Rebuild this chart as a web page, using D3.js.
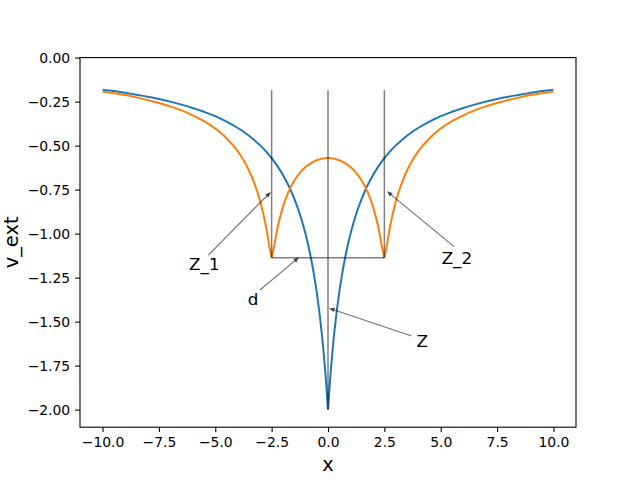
<!DOCTYPE html>
<html>
<head>
<meta charset="utf-8">
<script src="https://cdn.jsdelivr.net/npm/d3@7"></script>
<style>
  html, body { margin: 0; padding: 0; background: #fff; }
  svg { display: block; font-family: "DejaVu Sans", sans-serif; }
</style>
</head>
<body>
<svg id="chart" width="640" height="480"></svg>
<script>
// ---- data ----
const xValues = [-10,-9.5,-9,-8.5,-8,-7.5,-7,-6.5,-6,-5.5,-5,-4.5,-4,-3.75,-3.5,-3.25,-3,-2.75,-2.6,-2.5,-2.4,-2.25,-2,-1.75,-1.5,-1.25,-1,-0.75,-0.6,-0.5,-0.4,-0.3,-0.25,-0.2,-0.1,-0.05,0,
  0.05,0.1,0.2,0.25,0.3,0.4,0.5,0.6,0.75,1,1.25,1.5,1.75,2,2.25,2.4,2.5,2.6,2.75,3,3.25,3.5,3.75,4,4.5,5,5.5,6,6.5,7,7.5,8,8.5,9,9.5,10];

const blueValues = [-0.182,-0.190,-0.200,-0.211,-0.222,-0.235,-0.250,-0.267,-0.286,-0.308,-0.333,-0.364,-0.400,-0.421,-0.444,-0.471,-0.500,-0.533,-0.556,-0.571,-0.588,-0.615,-0.667,-0.727,-0.800,-0.889,-1.000,-1.143,-1.250,-1.333,-1.429,-1.538,-1.600,-1.667,-1.818,-1.905,-2.000,
  -1.905,-1.818,-1.667,-1.600,-1.538,-1.429,-1.333,-1.250,-1.143,-1.000,-0.889,-0.800,-0.727,-0.667,-0.615,-0.588,-0.571,-0.556,-0.533,-0.500,-0.471,-0.444,-0.421,-0.400,-0.364,-0.333,-0.308,-0.286,-0.267,-0.250,-0.235,-0.222,-0.211,-0.200,-0.190,-0.182];

const orangeValues = [-0.192,-0.202,-0.213,-0.226,-0.241,-0.258,-0.277,-0.300,-0.328,-0.361,-0.403,-0.458,-0.533,-0.582,-0.643,-0.720,-0.821,-0.960,-1.073,-1.137,-1.079,-0.974,-0.848,-0.762,-0.700,-0.655,-0.622,-0.599,-0.589,-0.583,-0.579,-0.576,-0.574,-0.573,-0.572,-0.571,-0.571,
  -0.571,-0.572,-0.573,-0.574,-0.576,-0.579,-0.583,-0.589,-0.599,-0.622,-0.655,-0.700,-0.762,-0.848,-0.974,-1.079,-1.137,-1.073,-0.960,-0.821,-0.720,-0.643,-0.582,-0.533,-0.458,-0.403,-0.361,-0.328,-0.300,-0.277,-0.258,-0.241,-0.226,-0.213,-0.202,-0.192];

// cusp positions where each curve has a sharp corner
const blueCusps = [0];
const orangeCusps = [-2.5, 2.5];

const xTicks = [-10, -7.5, -5, -2.5, 0, 2.5, 5, 7.5, 10];
const yTicks = [0, -0.25, -0.5, -0.75, -1, -1.25, -1.5, -1.75, -2];

// marker lines (x positions, bottoms, common top)
const markerX = [-2.5, 0, 2.5];
const markerBottom = [-1.137, -2.0, -1.137];
const markerTop = -0.185;
const baseLevel = -1.137;

// annotations: label, text anchor (x, y baseline-left), arrow tail, arrow tip
const annLabels = ["Z_1", "Z_2", "d", "Z"];
const annTextX = [-6.16, 5.04, -3.56, 3.93];
const annTextY = [-1.207, -1.173, -1.406, -1.646];
const annTailX = [-5.31, 5.59, -3.02, 3.71];
const annTailY = [-1.122, -1.074, -1.32, -1.582];
const annTipX = [-2.54, 2.62, -1.29, 0.05];
const annTipY = [-0.764, -0.76, -1.135, -1.424];

// ---- layout ----
const svg = d3.select("#chart");
const L = 80, R = 576, T = 57.6, B = 427.2;
const x = d3.scaleLinear().domain([-11, 11]).range([L, R]);
const y = d3.scaleLinear().domain([-2.1, 0]).range([B, T]);

const fmt = v => (v < 0 ? "\u2212" : "") + Math.abs(v).toFixed(v === 0 || Math.abs(v) % 1 === 0 && Math.abs(v) >= 10 ? (Math.abs(v) >= 10 ? 1 : 2) : 2);
const fmtX = v => (v < 0 ? "\u2212" : "") + Math.abs(v).toFixed(1);
const fmtY = v => (v < 0 ? "\u2212" : "") + Math.abs(v).toFixed(2);

const plot = svg.append("g");
plot.append("defs").append("clipPath").attr("id", "clip")
  .append("rect").attr("x", L).attr("y", T).attr("width", R - L).attr("height", B - T);

// split series into pieces at cusps
function pieces(cusps, values) {
  const pts = xValues.map((xv, i) => [xv, values[i]]);
  const out = [];
  let cur = [];
  pts.forEach(p => {
    cur.push(p);
    if (cusps.includes(p[0])) { out.push(cur); cur = [p]; }
  });
  if (cur.length > 1) out.push(cur);
  return out;
}
const line = d3.line().x(d => x(d[0])).y(d => y(d[1])).curve(d3.curveMonotoneX);
function drawSeries(values, cusps, color) {
  const d = pieces(cusps, values).map(p => line(p)).join("");
  plot.append("path").attr("d", d).attr("fill", "none")
    .attr("stroke", color).attr("stroke-width", 2).attr("stroke-linejoin", "round")
    .attr("clip-path", "url(#clip)");
}
drawSeries(blueValues, blueCusps, "#1f77b4");
drawSeries(orangeValues, orangeCusps, "#ff7f0e");

// marker lines
markerX.forEach((mx, i) => {
  plot.append("line").attr("x1", x(mx)).attr("x2", x(mx))
    .attr("y1", y(markerTop)).attr("y2", y(markerBottom[i]))
    .attr("stroke", "#000").attr("stroke-opacity", 0.5).attr("stroke-width", 1.5);
});
plot.append("line").attr("x1", x(markerX[0])).attr("x2", x(markerX[2]))
  .attr("y1", y(baseLevel)).attr("y2", y(baseLevel))
  .attr("stroke", "#000").attr("stroke-opacity", 0.5).attr("stroke-width", 1.5);

// annotations
annLabels.forEach((lab, i) => {
  const x1 = x(annTailX[i]), y1 = y(annTailY[i]);
  const x2 = x(annTipX[i]), y2 = y(annTipY[i]);
  const ang = Math.atan2(y2 - y1, x2 - x1);
  const hl = 5.5, hw = 2.2;
  const bx = x2 - hl * Math.cos(ang), by = y2 - hl * Math.sin(ang);
  plot.append("line").attr("x1", x1).attr("y1", y1).attr("x2", bx).attr("y2", by)
    .attr("stroke", "#000").attr("stroke-opacity", 0.55).attr("stroke-width", 1.2);
  const px = -Math.sin(ang), py = Math.cos(ang);
  plot.append("path")
    .attr("d", `M${x2},${y2}L${bx + hw * px},${by + hw * py}L${bx - hw * px},${by - hw * py}Z`)
    .attr("fill", "#000").attr("fill-opacity", 0.75).attr("stroke", "none");
  plot.append("text").attr("x", x(annTextX[i])).attr("y", y(annTextY[i]))
    .attr("font-size", "16.7px").attr("fill", "#000").text(lab);
});

// axes
const xAxis = svg.append("g").attr("transform", `translate(0,${B})`)
  .call(d3.axisBottom(x).tickValues(xTicks).tickFormat(fmtX).tickSize(4.9).tickPadding(4.9));
const yAxis = svg.append("g").attr("transform", `translate(${L},0)`)
  .call(d3.axisLeft(y).tickValues(yTicks).tickFormat(fmtY).tickSize(4.9).tickPadding(4.9));
[xAxis, yAxis].forEach(a => {
  a.select(".domain").remove();
  a.selectAll(".tick line").attr("stroke", "#000").attr("stroke-width", 1.1);
  a.selectAll(".tick text").attr("font-size", "13.9px").attr("fill", "#000")
    .attr("font-family", "DejaVu Sans, sans-serif");
});
svg.append("rect").attr("x", L).attr("y", T).attr("width", R - L).attr("height", B - T)
  .attr("fill", "none").attr("stroke", "#000").attr("stroke-width", 1.1);

// axis labels
svg.append("text").attr("x", (L + R) / 2).attr("y", 471).attr("text-anchor", "middle")
  .attr("font-size", "19.4px").attr("fill", "#000").text("x");
svg.append("text").attr("transform", `translate(17.5,${(T + B) / 2}) rotate(-90)`)
  .attr("text-anchor", "middle").attr("font-size", "19.4px").attr("fill", "#000").text("v_ext");
</script>
</body>
</html>
